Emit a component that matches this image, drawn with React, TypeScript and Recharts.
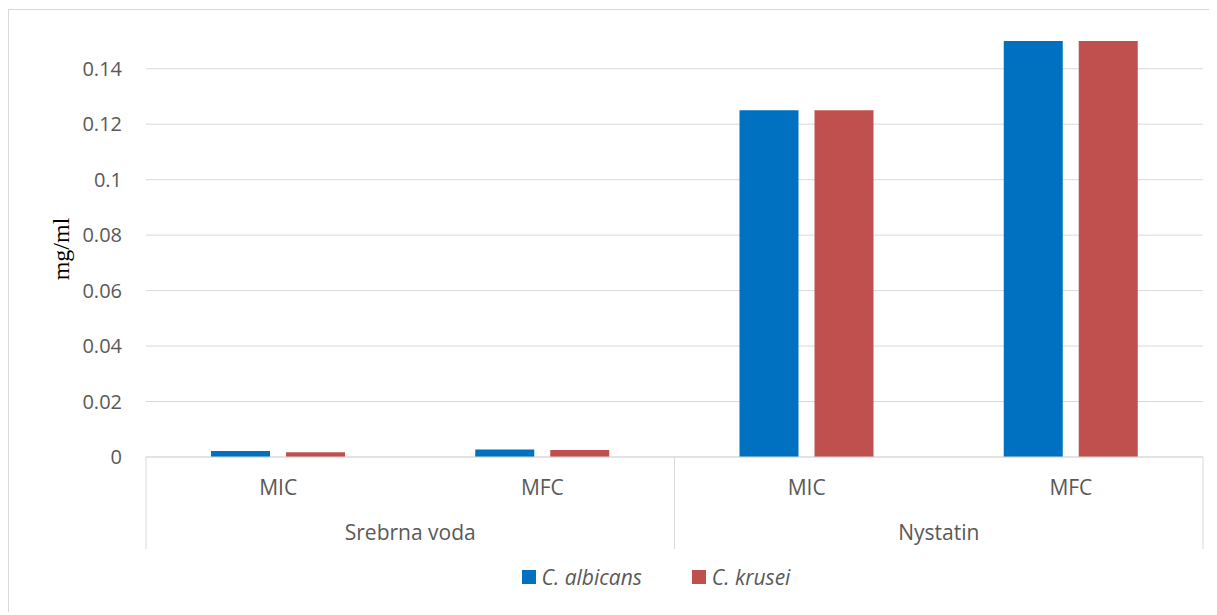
import React from 'react';
import { BarChart, Bar, XAxis, YAxis, CartesianGrid, Legend, Label } from 'recharts';

const categories = ['MIC', 'MFC', 'MIC', 'MFC'];
const groups = ['Srebrna voda', 'Srebrna voda', 'Nystatin', 'Nystatin'];
const albicans = [0.0022, 0.0027, 0.125, 0.15];
const krusei = [0.0017, 0.0025, 0.125, 0.15];
const yTicks = [0, 0.02, 0.04, 0.06, 0.08, 0.1, 0.12, 0.14];
const seriesNames = ['C. albicans', 'C. krusei'];
const seriesColors = ['#0070C0', '#C0504D'];

const data = categories.map((c, i) => ({
  metric: c,
  group: groups[i],
  albicans: albicans[i],
  krusei: krusei[i],
}));

const CHART_W = 1207;
const CHART_H = 602;
const MARGIN = { top: 31, right: 13, left: 0, bottom: 7 };
const Y_W = 137;
const X_H = 92;
const PLOT_W = CHART_W - MARGIN.left - MARGIN.right - Y_W;
const FONT = '"Open Sans", sans-serif';
const TEXT = '#595959';
const LINE = '#d9d9d9';

const XTick = (props: any) => {
  const { x, y, payload, index } = props;
  const bw = PLOT_W / data.length;
  const n = data.length;
  const isGroupStart = index === 0 || groups[index] !== groups[index - 1];
  let groupEnd = index;
  while (groupEnd + 1 < n && groups[groupEnd + 1] === groups[index]) groupEnd++;
  const groupCenter = x - bw / 2 + ((groupEnd - index + 1) * bw) / 2;
  return (
    <g>
      <text x={x} y={y + 38} textAnchor="middle" fill={TEXT} fontSize={21} fontFamily={FONT}>
        {payload.value}
      </text>
      {isGroupStart && (
        <>
          <line x1={x - bw / 2} x2={x - bw / 2} y1={y} y2={y + X_H} stroke={LINE} strokeWidth={1} />
          <text x={groupCenter} y={y + 83} textAnchor="middle" fill={TEXT} fontSize={21} fontFamily={FONT}>
            {groups[index]}
          </text>
        </>
      )}
      {index === n - 1 && (
        <line x1={x + bw / 2} x2={x + bw / 2} y1={y} y2={y + X_H} stroke={LINE} strokeWidth={1} />
      )}
    </g>
  );
};

const LegendContent = () => (
  <div
    style={{
      height: 56,
      display: 'flex',
      alignItems: 'center',
      justifyContent: 'center',
      gap: 50,
      fontFamily: FONT,
      fontSize: 21,
      fontStyle: 'italic',
      color: TEXT,
      paddingLeft: 100,
      boxSizing: 'border-box',
    }}
  >
    {seriesNames.map((s, i) => (
      <div key={s} style={{ display: 'flex', alignItems: 'center' }}>
        <span style={{ width: 14, height: 14, background: seriesColors[i], display: 'inline-block', marginRight: 6 }} />
        <span>{s}</span>
      </div>
    ))}
  </div>
);

const YLabel = (props: any) => {
  const vb = props.viewBox || {};
  const cx = 52;
  const cy = vb.y + vb.height / 2;
  return (
    <text
      x={cx}
      y={cy}
      transform={`rotate(-90 ${cx} ${cy})`}
      textAnchor="middle"
      dominantBaseline="central"
      fill="#000"
      fontSize={24}
      fontFamily='"Liberation Serif", "Times New Roman", serif'
    >
      mg/ml
    </text>
  );
};

export default function App() {
  return (
    <div style={{ width: CHART_W, height: CHART_H, border: `1px solid ${LINE}`, position: 'relative', top: 1, background: '#fff' }}>
      <BarChart width={CHART_W} height={CHART_H} data={data} margin={MARGIN} barGap={16}>
        <CartesianGrid vertical={false} stroke={LINE} strokeWidth={1} horizontalValues={yTicks} />
        <XAxis
          dataKey="metric"
          interval={0}
          height={X_H}
          tickLine={false}
          tickSize={0}
          tickMargin={0}
          axisLine={{ stroke: LINE }}
          tick={<XTick />}
        />
        <YAxis
          width={Y_W}
          domain={[0, 0.15]}
          ticks={yTicks}
          interval={0}
          axisLine={false}
          tickLine={false}
          tickSize={0}
          tickMargin={24}
          tickFormatter={(v: number) => String(v)}
          tick={{ fill: TEXT, fontSize: 20, fontFamily: FONT }}
        >
          <Label content={<YLabel />} />
        </YAxis>
        <Legend verticalAlign="bottom" content={<LegendContent />} />
        <Bar dataKey="albicans" name={seriesNames[0]} fill={seriesColors[0]} barSize={59} isAnimationActive={false} />
        <Bar dataKey="krusei" name={seriesNames[1]} fill={seriesColors[1]} barSize={59} isAnimationActive={false} />
      </BarChart>
    </div>
  );
}
